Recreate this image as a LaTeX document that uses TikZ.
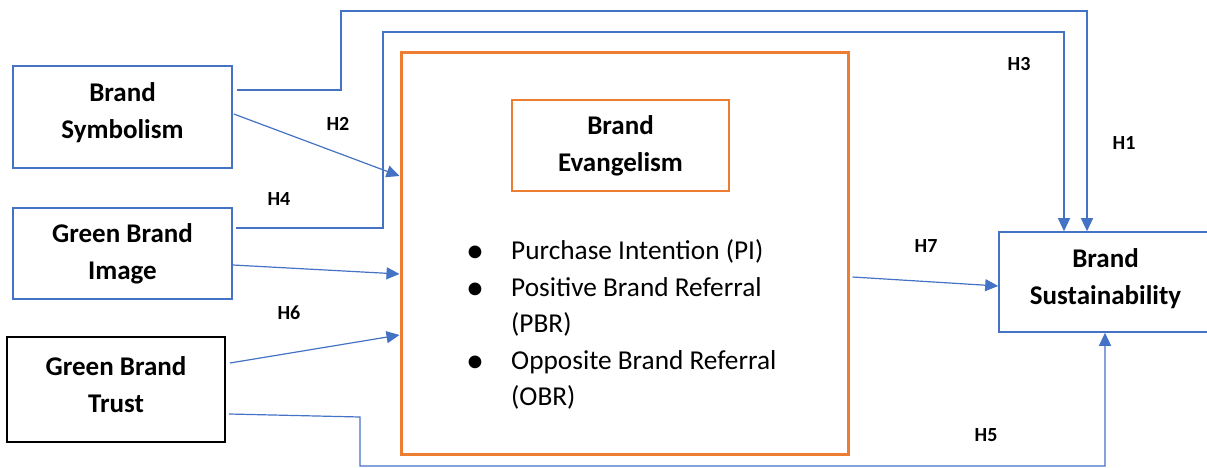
\documentclass[tikz,border=0pt]{standalone}
\usepackage{fontspec}
\setmainfont{Carlito}
\usetikzlibrary{arrows.meta,positioning}
\definecolor{linkblue}{RGB}{68,114,196}
\definecolor{evorange}{RGB}{237,125,49}

\tikzset{
  construct/.style={draw=linkblue, line width=1.6pt, align=center, inner sep=0pt,
    font=\fontsize{27}{37}\selectfont\bfseries},
  link/.style={draw=linkblue, line width=1.2pt, -{Triangle[length=13pt,width=12pt]}},
  hlabel/.style={font=\fontsize{20}{22}\selectfont\bfseries},
}
\newcommand{\evdot}{\raisebox{-3pt}{\fontsize{36}{36}\selectfont\textbullet}}

\begin{document}
\begin{tikzpicture}[x=1pt,y=-1pt]
        \useasboundingbox (0,0) rectangle (1207,468);
        %% Constructs
        \node[construct, text depth=13.5pt, minimum width=219pt, minimum height=102pt] (sym) at (122.5,117) {Brand\\Symbolism};
        \node[construct, minimum width=219pt, minimum height=91pt] (img) at (122.5,253.5) {Green Brand\\Image};
        \node[construct, text depth=10pt, draw=black, line width=2pt, minimum width=218pt, minimum height=105pt] (trust) at (116,389.5) {Green Brand\\Trust};
        \node[construct, text depth=11.5pt, minimum width=213pt, minimum height=100pt] (sus) at (1105.5,282) {Brand\\Sustainability};
        %% Mediator
        \node[draw=evorange, line width=3pt, minimum width=447pt, minimum height=401pt] (evbox) at (624.5,253.5) {};
        \node[construct, draw=evorange, line width=1.8pt, minimum width=217pt, minimum height=91pt] (evtitle) at (620.5,145.5) {Brand\\Evangelism};
        \node[anchor=base west, inner sep=0pt, font=\fontsize{27.3}{36.5}\selectfont] (evlist) at (466,259.5)
          {\begin{tabular}[t]{@{}p{45pt}@{}l@{}}
            \evdot & Purchase Intention (PI)\\
            \evdot & Positive Brand Referral\\
                   & (PBR)\\
            \evdot & Opposite Brand Referral\\
                   & (OBR)
          \end{tabular}};
        %% Hypotheses
        \node[hlabel] (h1) at (1124,143) {H1};
        \node[hlabel] (h2) at (338,124) {H2};
        \node[hlabel] (h3) at (1019,64) {H3};
        \node[hlabel] (h4) at (279,199) {H4};
        \node[hlabel] (h5) at (986,435) {H5};
        \node[hlabel] (h6) at (289,313) {H6};
        \node[hlabel] (h7) at (926,246) {H7};
        %% Paths
        \draw[link] ([xshift=4pt,yshift=27pt]sym.east) -- (341,90) -- (341,11) -| ([xshift=-18.5pt]sus.north);
        \draw[link] ([xshift=3pt,yshift=25.5pt]img.east) -- (383,228) -- (383,32) -| ([xshift=-41.5pt]sus.north);
        \draw[link] ([xshift=1pt,yshift=3pt]sym.east) -- ([yshift=77.5pt]evbox.west);
        \draw[link] ([yshift=-11.5pt]img.east) -- ([yshift=-20.5pt]evbox.west);
        \draw[link] ([xshift=4pt,yshift=26.5pt]trust.east) -- ([yshift=-81.5pt]evbox.west);
        \draw[link] ([xshift=3pt,yshift=-24.5pt]trust.east) -- (360,417) -- (360,466) -| ([xshift=-0.5pt]sus.south);
        \draw[link] ([xshift=3pt,yshift=-23.5pt]evbox.east) -- ([yshift=-4pt]sus.west);
    \end{tikzpicture}
\end{document}
